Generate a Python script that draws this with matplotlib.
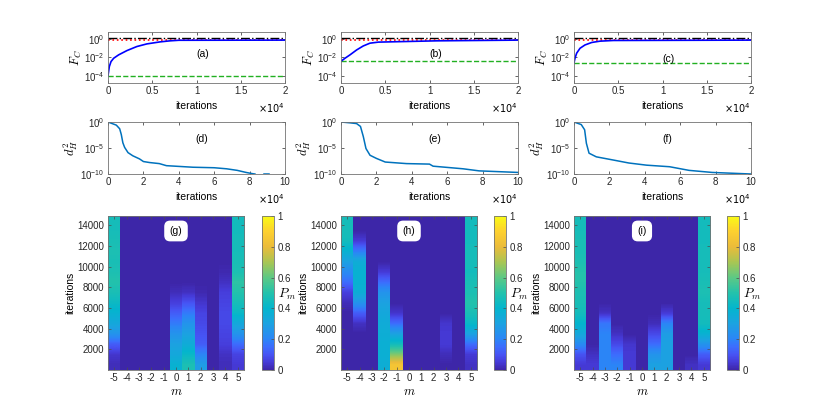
import numpy as np
import matplotlib
matplotlib.use("Agg")
import matplotlib.pyplot as plt
from matplotlib.colors import LinearSegmentedColormap, Normalize
from matplotlib.cm import ScalarMappable

plt.rcParams["font.family"] = ["Liberation Sans", "DejaVu Sans"]
plt.rcParams["axes.edgecolor"] = "0.45"
plt.rcParams["axes.linewidth"] = 0.6
plt.rcParams["xtick.color"] = "0.15"
plt.rcParams["ytick.color"] = "0.15"

# ---- top row: F_C vs iterations ----
fc_upper = 1.3
fc_target = 0.78
fc_start = [1.0e-4, 3.8e-3, 2.5e-3]
fc_x = [
    [0, 150, 340, 640, 1200, 2140, 3260, 4390, 5890, 7020, 8000, 20000],
    [0, 450, 1015, 1770, 2520, 3270, 4210, 7030, 10800, 20000],
    [0, 113, 300, 680, 1240, 2000, 2940, 4440, 20000],
]
fc_y = [
    [1.0e-4, 1.0e-3, 3.5e-3, 8.1e-3, 1.9e-2, 5.6e-2, 0.155, 0.30, 0.50, 0.65, 0.75, 0.78],
    [3.8e-3, 8.1e-3, 1.9e-2, 6.6e-2, 0.18, 0.36, 0.47, 0.54, 0.65, 0.78],
    [2.5e-3, 8.1e-3, 2.9e-2, 0.10, 0.23, 0.43, 0.60, 0.71, 0.78],
]

# ---- middle row: d_H^2 vs iterations ----
dh_x = [
    [0, 4700, 6600, 7500, 8400, 9400, 11300, 14000, 17800, 20000, 23500, 29000,
     33000, 48000, 60000, 67000, 73000, 78000, 82000, 83000],
    [0, 5000, 8800, 11000, 12600, 14100, 16400, 20000, 25000, 37000, 50000, 52000,
     69000, 78000, 100000],
    [0, 4100, 6000, 7000, 8500, 12600, 22000, 31000, 41000, 54000, 65000, 78000, 100000],
]
dh_y = [
    [1.0, 0.25, 5.0e-2, 4.0e-3, 1.0e-4, 1.3e-5, 1.3e-6, 3.2e-7, 8.0e-8, 2.5e-8, 1.6e-8,
     1.0e-8, 4.0e-9, 2.0e-9, 1.6e-9, 1.0e-9, 5.0e-10, 2.0e-10, 1.1e-10, 1.0e-10],
    [1.0, 0.7, 0.5, 0.14, 1.6e-3, 8.0e-6, 4.0e-7, 1.0e-7, 2.0e-8, 1.0e-8, 8.0e-9,
     3.2e-9, 1.0e-9, 4.0e-10, 2.0e-10],
    [1.0, 0.32, 3.2e-2, 8.0e-5, 1.0e-6, 2.0e-7, 5.0e-8, 1.3e-8, 5.0e-9, 2.5e-9,
     5.0e-10, 2.0e-10, 1.0e-10],
]
dh_tail_x = [88000, 91000]
dh_tail_y = [1.1e-10, 1.1e-10]

# ---- bottom row: P_m maps, profiles from bottom (500) to top (14500) ----
m_values = list(range(-5, 6))
iter_rows = np.arange(500, 15000, 1000)
pm_g = {
    -5: [0.02, 0.04, 0.12, 0.25, 0.33, 0.38, 0.43, 0.47, 0.50, 0.48, 0.47, 0.48, 0.47, 0.46, 0.46],
    0: [0.38, 0.33, 0.30, 0.25, 0.18, 0.12, 0.06, 0.02],
    1: [0.48, 0.42, 0.35, 0.30, 0.25, 0.18, 0.10, 0.03],
    2: [0.28, 0.20, 0.12, 0.10, 0.08, 0.07, 0.04, 0.01],
    4: [0.02, 0.03, 0.06, 0.07, 0.08, 0.08, 0.07, 0.06, 0.03, 0.01],
    5: [0.05, 0.07, 0.15, 0.25, 0.33, 0.42, 0.46, 0.50, 0.52, 0.48, 0.47, 0.46, 0.46, 0.45, 0.45],
}
pm_h = {
    -5: [0, 0, 0, 0, 0, 0, 0.02, 0.06, 0.15, 0.22, 0.30, 0.38, 0.45, 0.46, 0.46],
    -4: [0, 0, 0, 0, 0.03, 0.12, 0.25, 0.36, 0.38, 0.38, 0.35, 0.18, 0.05],
    -2: [0.36, 0.37, 0.37, 0.36, 0.35, 0.33, 0.30, 0.25, 0.15, 0.05],
    -1: [0.85, 0.65, 0.45, 0.30, 0.15, 0.04],
    3: [0, 0.02, 0.05, 0.05, 0.04],
    5: [0.03, 0.05, 0.15, 0.30, 0.42, 0.47, 0.50, 0.48, 0.47, 0.45, 0.46, 0.46, 0.45, 0.45, 0.45],
}
pm_i = {
    -5: [0.05, 0.10, 0.22, 0.33, 0.40, 0.45, 0.47, 0.48, 0.50, 0.50, 0.48, 0.47, 0.47, 0.46, 0.46],
    -4: [0.05, 0.03],
    -3: [0.20, 0.20, 0.20, 0.20, 0.17, 0.03],
    -2: [0.20, 0.15, 0.08, 0.03],
    -1: [0.05, 0.05, 0.04],
    1: [0.30, 0.25, 0.15, 0.08, 0.02],
    2: [0.30, 0.30, 0.30, 0.28, 0.20, 0.05],
    4: [0.03],
    5: [0.05, 0.12, 0.25, 0.38, 0.45, 0.46, 0.46, 0.48, 0.47, 0.46, 0.46, 0.46, 0.45, 0.45, 0.45],
}

top_labels = ["(a)", "(b)", "(c)"]
mid_labels = ["(d)", "(e)", "(f)"]
map_labels = ["(g)", "(h)", "(i)"]

parula = LinearSegmentedColormap.from_list("parula", [
    (0.00, (0.2422, 0.1504, 0.6603)),
    (0.05, (0.2738, 0.2290, 0.8457)),
    (0.10, (0.2780, 0.3283, 0.9568)),
    (0.15, (0.2379, 0.4281, 0.9946)),
    (0.20, (0.1707, 0.5229, 0.9665)),
    (0.30, (0.1088, 0.6369, 0.8820)),
    (0.40, (0.0150, 0.7114, 0.8046)),
    (0.50, (0.1378, 0.7604, 0.6739)),
    (0.60, (0.3612, 0.7864, 0.5218)),
    (0.70, (0.6564, 0.7761, 0.3286)),
    (0.80, (0.9214, 0.7348, 0.2282)),
    (0.90, (0.9932, 0.8148, 0.1853)),
    (1.00, (0.9769, 0.9839, 0.0805)),
])

W, H = 830, 416
fig = plt.figure(figsize=(W / 100, H / 100), dpi=100)


def px_axes(x0, y0, x1, y1):
    return fig.add_axes([x0 / W, 1 - y1 / H, (x1 - x0) / W, (y1 - y0) / H])


def style(ax):
    ax.tick_params(direction="in", top=True, right=True, length=2.5, width=0.5,
                   labelsize=7, pad=2.5)
    ax.minorticks_off()


lefts = [108, 341, 574]
for k in range(3):
    # F_C panel
    ax = px_axes(lefts[k], 32, lefts[k] + 177, 83)
    ax.set_yscale("log")
    ax.axhline(fc_upper, color="k", ls="-.", lw=1.0)
    ax.axhline(fc_target, color="r", ls=":", lw=1.2)
    ax.axhline(fc_start[k], color="#22b022", ls="--", lw=1.0)
    ax.plot(fc_x[k], fc_y[k], color="b", lw=1.2)
    ax.set_xlim(0, 20000)
    ax.set_ylim(1.6e-5, 6)
    ax.set_yticks([1e-4, 1e-2, 1e0])
    ax.set_xticks([0, 5000, 10000, 15000, 20000])
    ax.set_xticklabels(["0", "0.5", "1", "1.5", "2"])
    style(ax)
    ax.set_xlabel("iterations", fontsize=7.5, labelpad=3)
    ax.set_ylabel("$F_C$", fontsize=9, math_fontfamily="cm", labelpad=0)
    ax.text(1.0, -0.49, r"$\times10^{4}$", transform=ax.transAxes, ha="right",
            va="center", fontsize=7)
    ax.text(10700, 10 ** (-1.6 if k < 2 else -2.2), top_labels[k], fontsize=7.5,
            ha="center", va="center")

    # d_H^2 panel
    ax = px_axes(lefts[k], 122, lefts[k] + 177, 174)
    ax.set_yscale("log")
    ax.plot(dh_x[k], dh_y[k], color="#0072BD", lw=1.1)
    if k == 0:
        ax.plot(dh_tail_x, dh_tail_y, color="#0072BD", lw=1.1)
    ax.set_xlim(0, 100000)
    ax.set_ylim(1e-10, 1)
    ax.set_yticks([1e-10, 1e-5, 1e0])
    ax.set_xticks(np.arange(0, 100001, 20000))
    ax.set_xticklabels(["0", "2", "4", "6", "8", "10"])
    style(ax)
    ax.set_xlabel("iterations", fontsize=7.5, labelpad=3)
    ax.set_ylabel("$d_H^2$", fontsize=9, math_fontfamily="cm", labelpad=0)
    ax.text(1.0, -0.48, r"$\times10^{4}$", transform=ax.transAxes, ha="right",
            va="center", fontsize=7)
    ax.text(53000, 10 ** -3.2, mid_labels[k], fontsize=7.5, ha="center", va="center")

# P_m maps
maps = [pm_g, pm_h, pm_i]
cb_lefts = [262, 494, 727]
for k in range(3):
    ax = px_axes(lefts[k], 216, lefts[k] + 136, 370)
    for m in m_values:
        prof = maps[k].get(m, [])
        col = np.zeros(len(iter_rows))
        col[:len(prof)] = prof
        ax.imshow(col[::-1, None], cmap=parula, vmin=0, vmax=1, aspect="auto",
                  interpolation="bilinear", extent=(m - 0.5, m + 0.5, 0, 15000))
    ax.set_xlim(-5.5, 5.5)
    ax.set_ylim(0, 14900)
    ax.set_xticks(m_values)
    ax.set_xticklabels([str(m) for m in m_values])
    ax.set_yticks(np.arange(2000, 14001, 2000))
    style(ax)
    ax.tick_params(length=2, color="0.3")
    ax.set_xlabel("$m$", fontsize=9, math_fontfamily="cm", labelpad=2)
    ax.set_ylabel("iterations", fontsize=7.5, labelpad=2)
    ax.text(0, 13450, map_labels[k], fontsize=7.5, ha="center", va="center",
            bbox=dict(boxstyle="round,pad=0.45,rounding_size=0.5", fc="white", ec="white"))

    cax = px_axes(cb_lefts[k], 216, cb_lefts[k] + 12, 370)
    cb = fig.colorbar(ScalarMappable(Normalize(0, 1), parula), cax=cax)
    cb.set_ticks([0, 0.2, 0.4, 0.6, 0.8, 1])
    cb.set_ticklabels(["0", "0.2", "0.4", "0.6", "0.8", "1"])
    cax.tick_params(direction="in", length=2, width=0.5, labelsize=7, pad=2.5,
                    color="0.3")
    cb.outline.set_edgecolor("0.45")
    cb.outline.set_linewidth(0.6)
    cax.text(1.3, 0.49, "$P_m$", transform=cax.transAxes, fontsize=9.5,
             math_fontfamily="cm", ha="left", va="center")

fig.savefig("out.png", dpi=100)
